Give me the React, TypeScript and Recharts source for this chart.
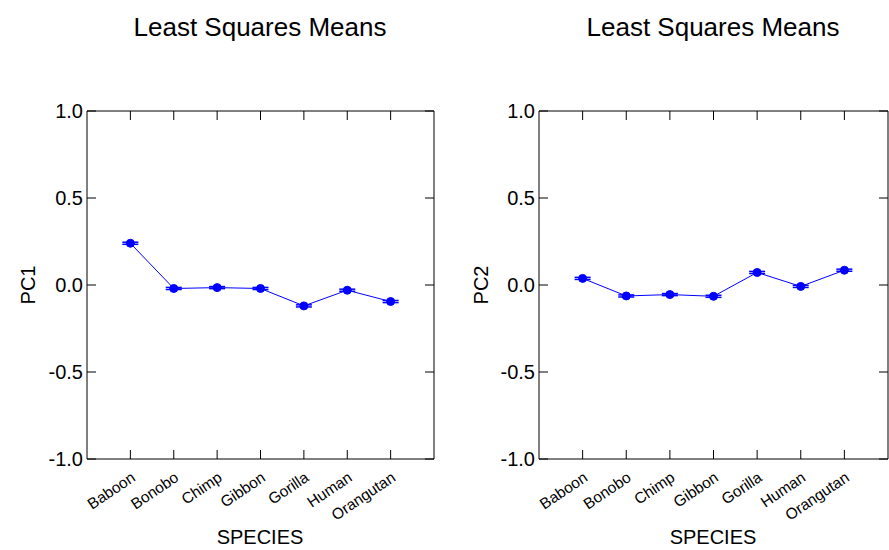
import React from "react";
import { LineChart, Line, XAxis, YAxis, ErrorBar } from "recharts";

const species = ["Baboon", "Bonobo", "Chimp", "Gibbon", "Gorilla", "Human", "Orangutan"];
const pc1 = [0.24, -0.02, -0.015, -0.02, -0.12, -0.03, -0.095];
const pc2 = [0.038, -0.063, -0.055, -0.065, 0.072, -0.008, 0.085];
const pc1Err = [0.006, 0.006, 0.006, 0.006, 0.006, 0.006, 0.006];
const pc2Err = [0.006, 0.006, 0.006, 0.006, 0.006, 0.006, 0.006];
const yTicks = [-1, -0.5, 0, 0.5, 1];
const xTicks = [1, 2, 3, 4, 5, 6, 7];

const FONT = "Liberation Sans, Arial, sans-serif";

const BottomTick = (props: any) => {
  const { x, y, payload } = props;
  const tx = x + 6;
  const ty = y + 21;
  return (
    <g>
      <line x1={x} y1={y} x2={x} y2={y - 9} stroke="#000" />
      <text x={tx} y={ty} textAnchor="end" fontSize={15.5} fontFamily={FONT} fill="#000"
        transform={`rotate(-34, ${tx}, ${ty})`}>
        {species[payload.value - 1]}
      </text>
    </g>
  );
};

const TopTick = (props: any) => {
  const { x, y } = props;
  return <line x1={x} y1={y} x2={x} y2={y + 9} stroke="#000" />;
};

const LeftTick = (props: any) => {
  const { x, y, payload } = props;
  return (
    <g>
      <line x1={x} y1={y} x2={x + 9} y2={y} stroke="#000" />
      <text x={x - 4} y={y} dy="0.36em" textAnchor="end" fontSize={20} fontFamily={FONT} fill="#000">
        {payload.value.toFixed(1)}
      </text>
    </g>
  );
};

const RightTick = (props: any) => {
  const { x, y } = props;
  return <line x1={x} y1={y} x2={x - 9} y2={y} stroke="#000" />;
};

function Panel({ values, errs, margin, width }: any) {
  const data = xTicks.map((x, i) => ({ x, v: values[i], e: errs[i] }));
  return (
    <LineChart width={width} height={550} data={data} margin={margin}>
      <XAxis dataKey="x" type="number" domain={[0, 8]} ticks={xTicks} height={1}
        tickSize={0} tickMargin={0} tickLine={false} axisLine={{ stroke: "#000" }}
        tick={<BottomTick />} interval={0} allowDataOverflow />
      <XAxis xAxisId="top" dataKey="x" orientation="top" type="number" domain={[0, 8]} ticks={xTicks} height={1}
        tickSize={0} tickMargin={0} tickLine={false} axisLine={{ stroke: "#000" }}
        tick={<TopTick />} interval={0} allowDataOverflow />
      <YAxis type="number" domain={[-1, 1]} ticks={yTicks} width={1}
        tickSize={0} tickMargin={0} tickLine={false} axisLine={{ stroke: "#000" }}
        tick={<LeftTick />} interval={0} allowDataOverflow />
      <YAxis yAxisId="right" orientation="right" type="number" domain={[-1, 1]} ticks={yTicks} width={1}
        tickSize={0} tickMargin={0} tickLine={false} axisLine={{ stroke: "#000" }}
        tick={<RightTick />} interval={0} allowDataOverflow />
      <Line dataKey="v" stroke="#0000ff" strokeWidth={1} isAnimationActive={false}
        dot={{ r: 4, fill: "#0000ff", stroke: "#0000ff", strokeWidth: 1 }} activeDot={false}>
        <ErrorBar dataKey="e" direction="y" width={8} stroke="#0000ff" strokeWidth={1.5} isAnimationActive={false} />
      </Line>
    </LineChart>
  );
}

const txt: React.CSSProperties = { position: "absolute", fontFamily: FONT, color: "#000", whiteSpace: "nowrap" };

export default function App() {
  return (
    <div style={{ position: "absolute", left: 0, top: 0, width: 889, height: 550, background: "#fff" }}>
      <div style={{ position: "absolute", left: 0, top: 0 }}>
        <Panel values={pc1} errs={pc1Err} width={445} margin={{ top: 110, right: 10, bottom: 90, left: 86 }} />
      </div>
      <div style={{ position: "absolute", left: 445, top: 0 }}>
        <Panel values={pc2} errs={pc2Err} width={444} margin={{ top: 110, right: 0, bottom: 90, left: 93 }} />
      </div>

      <div style={{ ...txt, left: 60, width: 400, top: 12, fontSize: 26, textAlign: "center" }}>Least Squares Means</div>
      <div style={{ ...txt, left: 513, width: 400, top: 12, fontSize: 26, textAlign: "center" }}>Least Squares Means</div>

      <div style={{ ...txt, left: 160, width: 200, top: 526, fontSize: 20, textAlign: "center" }}>SPECIES</div>
      <div style={{ ...txt, left: 613, width: 200, top: 526, fontSize: 20, textAlign: "center" }}>SPECIES</div>

      <div style={{ ...txt, left: 28, top: 285, fontSize: 20, transform: "translate(-50%, -50%) rotate(-90deg)" }}>PC1</div>
      <div style={{ ...txt, left: 481, top: 285, fontSize: 20, transform: "translate(-50%, -50%) rotate(-90deg)" }}>PC2</div>
    </div>
  );
}
